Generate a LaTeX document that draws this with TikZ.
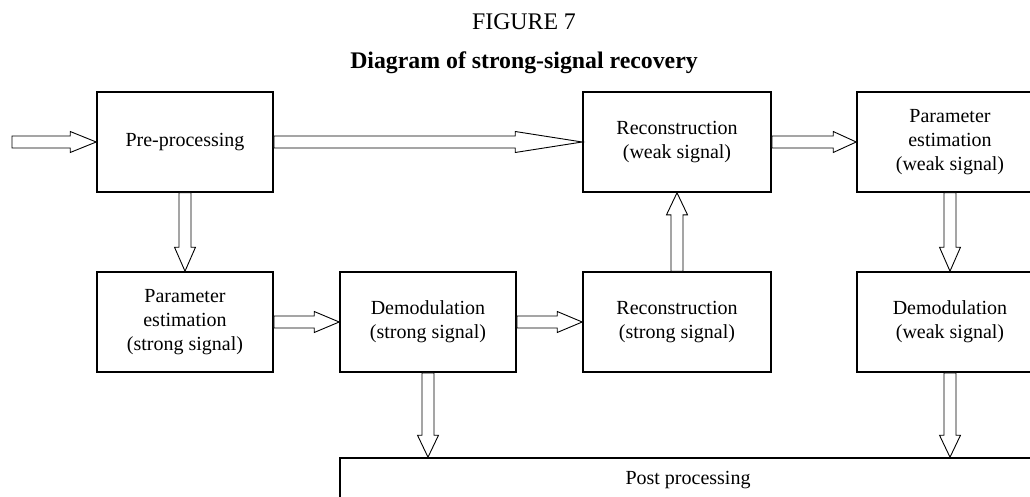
\documentclass[tikz,border=0pt]{standalone}
\usepackage{fontspec}
\setmainfont{Liberation Serif}
\usetikzlibrary{calc}
\newcommand\shafthw{6pt}
\newcommand\headhw{10.5pt}
% block (hollow) arrow: from, to, head length
\newcommand\blockarrow[3]{%
  \coordinate (ba-s) at (#1);
  \coordinate (ba-e) at (#2);
  \coordinate (ba-h) at ($(ba-e)!#3!(ba-s)$);
  \draw[barrow] ($(ba-s)!\shafthw!90:(ba-e)$)
    -- ($(ba-h)!\shafthw!90:(ba-e)$)
    -- ($(ba-h)!\headhw!90:(ba-e)$)
    -- (ba-e)
    -- ($(ba-h)!\headhw!-90:(ba-e)$)
    -- ($(ba-h)!\shafthw!-90:(ba-e)$)
    -- ($(ba-s)!\shafthw!-90:(ba-e)$) -- cycle;}
\begin{document}
\begin{tikzpicture}[x=1pt,y=-1pt,
  box/.style={draw,line width=1.6pt,inner sep=0pt,align=center,
    font=\fontsize{20}{24}\selectfont,minimum height=100pt},
  barrow/.style={draw,line width=0.9pt,fill=white,line join=miter},
  ttl/.style={anchor=base,font=\fontsize{23.8}{28}\selectfont}]
\useasboundingbox (0,0) rectangle (1030,497);
\node[ttl] (fig) at (524,29.3) {FIGURE 7};
\node[ttl,font=\fontsize{23.8}{28}\selectfont\bfseries] (title) at (524,69) {Diagram of strong-signal recovery};
% top row
\node[box,minimum width=176pt] (pre) at (185,142) {Pre-processing};
\node[box,minimum width=188pt] (recw) at (677,142) {Reconstruction\\(weak signal)};
\node[box,minimum width=186pt] (parw) at (950,142) {Parameter\\estimation\\(weak signal)};
% second row
\node[box,minimum width=176pt] (pars) at (185,322) {Parameter\\estimation\\(strong signal)};
\node[box,minimum width=176pt] (dems) at (428,322) {Demodulation\\(strong signal)};
\node[box,minimum width=188pt] (recs) at (677,322) {Reconstruction\\(strong signal)};
\node[box,minimum width=186pt] (demw) at (950,322) {Demodulation\\(weak signal)};
% post processing
\node[box,minimum width=696pt,minimum height=45pt] (post) at (688,480.5) {Post processing};
% connectors
\coordinate (in) at (12,142);
\blockarrow{in}{pre.west}{26pt}
\blockarrow{pre.east}{recw.west}{67pt}
\blockarrow{recw.east}{parw.west}{23pt}
\blockarrow{pre.south}{pars.north}{24pt}
\blockarrow{pars.east}{dems.west}{25pt}
\blockarrow{dems.east}{recs.west}{25pt}
\blockarrow{recs.north}{recw.south}{22pt}
\blockarrow{parw.south}{demw.north}{24pt}
\blockarrow{dems.south}{dems.south |- post.north}{22pt}
\blockarrow{demw.south}{demw.south |- post.north}{22pt}
\end{tikzpicture}
\end{document}
